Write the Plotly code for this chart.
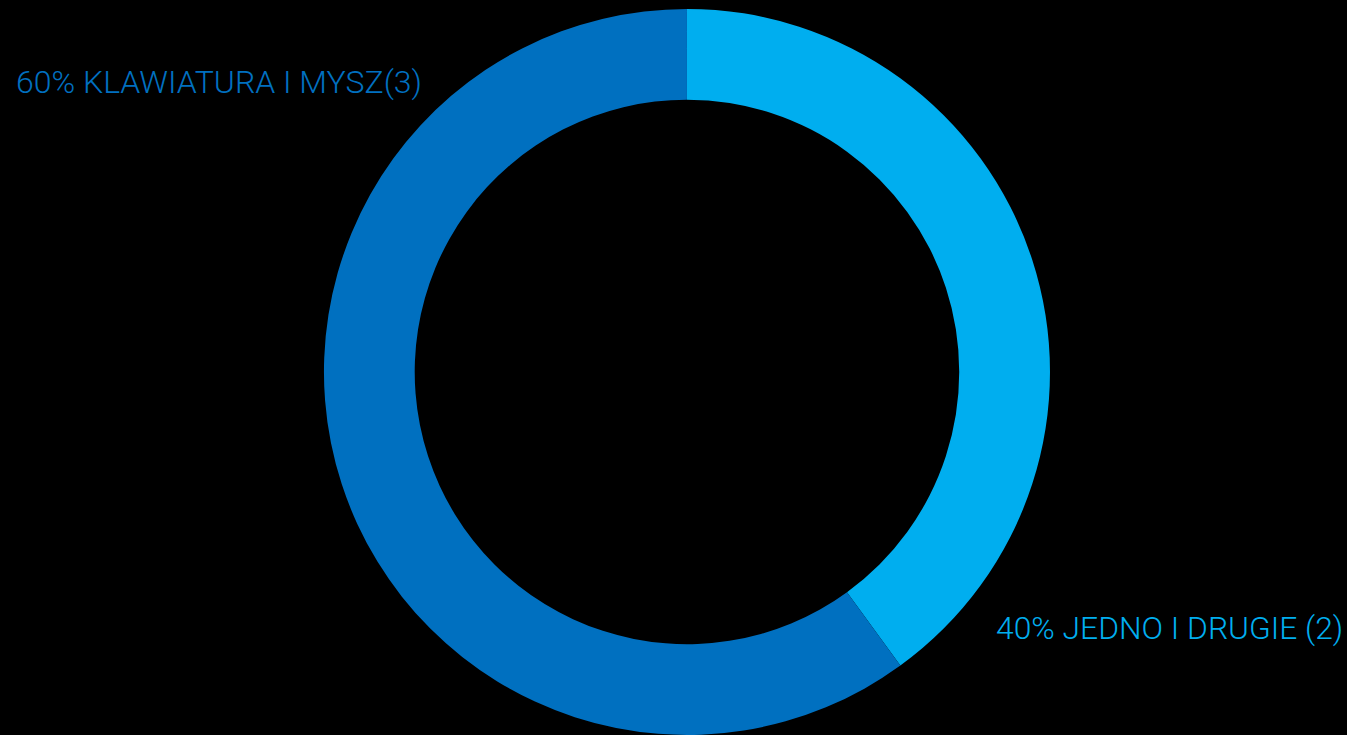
import plotly.graph_objects as go

labels = ["JEDNO I DRUGIE", "KLAWIATURA I MYSZ"]
values = [2, 3]
colors = ["#00AEEF", "#0070C0"]
label_texts = ["40% JEDNO I DRUGIE (2)", "60% KLAWIATURA I MYSZ(3)"]

W, H = 1347, 735

fig = go.Figure(go.Pie(
    labels=labels,
    values=values,
    hole=0.75,
    sort=False,
    direction="clockwise",
    rotation=0,
    textinfo="none",
    hoverinfo="label+percent",
    marker=dict(colors=colors, line=dict(width=0)),
    domain=dict(x=[0.2405, 0.7795], y=[0.0, 0.988]),
    showlegend=False,
))

fig.add_annotation(x=14 / W, y=1 - 82 / H, xref="paper", yref="paper",
                   text=label_texts[1], showarrow=False, xanchor="left", yanchor="middle",
                   font=dict(family="Roboto", size=32, weight=300, color=colors[1]))
fig.add_annotation(x=994 / W, y=1 - 628 / H, xref="paper", yref="paper",
                   text=label_texts[0], showarrow=False, xanchor="left", yanchor="middle",
                   font=dict(family="Roboto", size=31.8, weight=300, color=colors[0]))

fig.update_layout(
    width=W, height=H,
    margin=dict(l=0, r=0, t=0, b=0),
    paper_bgcolor="#000000",
    plot_bgcolor="#000000",
)

fig.write_html("out.html",
               config={"displayModeBar": False},
               post_script="document.body.style.margin='0';document.body.style.overflow='hidden';document.body.style.background='#000';")
